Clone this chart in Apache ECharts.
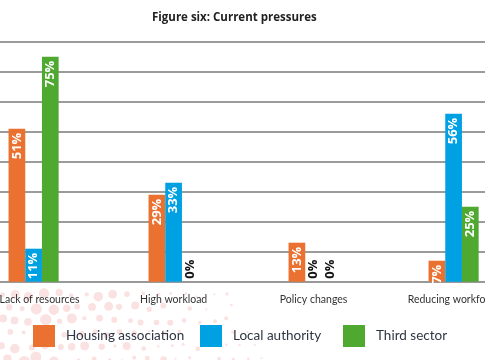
<!DOCTYPE html>
<html>
<head>
<meta charset="utf-8">
<script src="https://cdn.jsdelivr.net/npm/echarts@6/dist/echarts.min.js"></script>
<style>
html,body{margin:0;padding:0;background:#fff;}
#chart{width:485px;height:360px;}
</style>
</head>
<body>
<div id="chart"></div>
<script>
var categories = ['Lack of resources', 'High workload', 'Policy changes', 'Reducing workforce'];
var housingAssociation = [51, 29, 13, 7];
var localAuthority = [11, 33, 0, 56];
var thirdSector = [75, 0, 0, 25];
var seriesNames = ['Housing association', 'Local authority', 'Third sector'];
var colors = ['#EA7130', '#00A1E2', '#4FA931'];

var chart = echarts.init(document.getElementById('chart'), null, {renderer: 'canvas'});
var FONT = 'Lato, "Open Sans", sans-serif';

function mkData(arr) {
  return arr.map(function (v) {
    if (v === 0) {
      return {
        value: v,
        label: {
          position: 'insideBottom', align: 'left', verticalAlign: 'middle',
          distance: 3, color: '#111'
        }
      };
    }
    return v;
  });
}

function mkSeries(name, arr, color) {
  return {
    name: name,
    type: 'bar',
    data: mkData(arr),
    barWidth: 16.7,
    barGap: '0%',
    itemStyle: {color: color},
    z: 3,
    label: {
      show: true,
      rotate: 90,
      position: 'insideTop',
      align: 'right',
      verticalAlign: 'middle',
      distance: 4,
      color: '#fff',
      fontWeight: 'bold',
      fontSize: 13,
      fontFamily: '"Open Sans", sans-serif',
      formatter: function (p) { return p.value + '%'; }
    }
  };
}

// decorative halftone dots (background only)
var dots = [];
var seed = 7;
function rnd() { seed = (seed * 9301 + 49297) % 233280; return seed / 233280; }
for (var gy = 0; gy < 6; gy++) {
  for (var gx = 0; gx < 22; gx++) {
    var cx = gx * 14 + (gy % 2 ? 7 : 0) + rnd() * 5;
    var cy = 292 + gy * 13 + rnd() * 5;
    var fade = Math.max(0, 1 - cx / 320);
    var r = (2 + rnd() * 5) * fade;
    if (r > 1) {
      dots.push({type: 'circle', silent: true, z: -10,
        shape: {cx: cx, cy: cy, r: r}, style: {fill: '#FBE2E2'}});
    }
  }
}

function mkLegend(name, left) {
  return {
    data: [name],
    left: left,
    top: 325,
    itemWidth: 22,
    itemHeight: 22,
    icon: 'rect',
    padding: 0,
    textStyle: {fontSize: 13.5, color: '#2E3643', fontFamily: FONT, padding: [0, 0, 0, 6]}
  };
}

var axisData = categories.map(function (c, i) {
  return i === 0 ? {value: c, textStyle: {padding: [0, 0, 0, 12]}} : c;
});

var option = {
  backgroundColor: '#fff',
  animation: false,
  textStyle: {fontFamily: FONT},
  title: {
    text: 'Figure six: Current pressures',
    left: 147,
    top: 7,
    textStyle: {fontSize: 11.5, fontWeight: 'bold', color: '#222', fontFamily: '"Open Sans", sans-serif'}
  },
  graphic: dots,
  legend: [
    mkLegend(seriesNames[0], 33),
    mkLegend(seriesNames[1], 200),
    mkLegend(seriesNames[2], 343)
  ],
  grid: {left: -36.4, right: -38.6, top: 41.7, bottom: 78.3, containLabel: false, outerBoundsMode: 'none'},
  xAxis: {
    type: 'category',
    data: axisData,
    axisLine: {show: true, lineStyle: {color: '#999', width: 2}},
    axisTick: {show: false},
    axisLabel: {fontSize: 10.5, color: '#333', margin: 12, fontFamily: FONT, interval: 0}
  },
  yAxis: {
    type: 'value',
    min: 0,
    max: 80,
    interval: 10,
    axisLine: {show: false},
    axisTick: {show: false},
    axisLabel: {show: false},
    splitLine: {lineStyle: {color: '#9B9B9B', width: 2}}
  },
  series: [
    mkSeries(seriesNames[0], housingAssociation, colors[0]),
    mkSeries(seriesNames[1], localAuthority, colors[1]),
    mkSeries(seriesNames[2], thirdSector, colors[2])
  ]
};
chart.setOption(option);
</script>
</body>
</html>
